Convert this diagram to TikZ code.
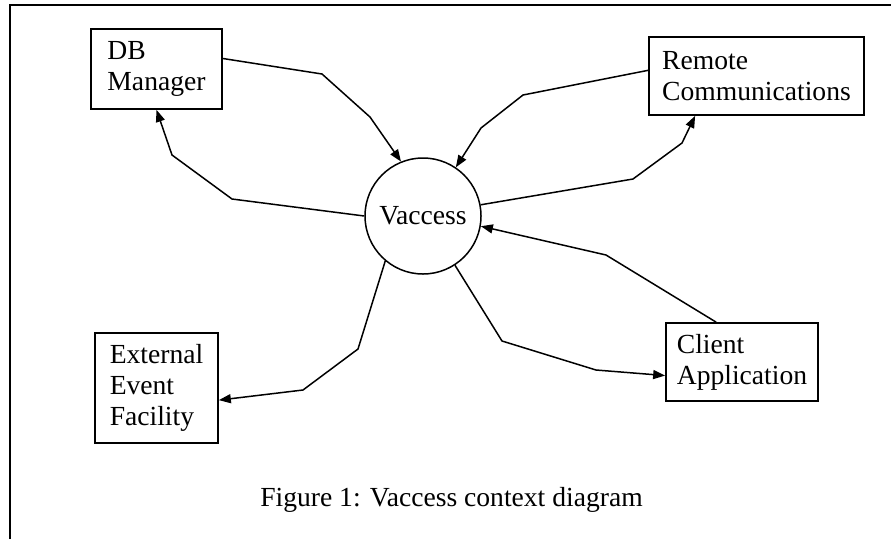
\documentclass[tikz,border=0pt]{standalone}
\usepackage{fontspec}
\setmainfont{Liberation Serif}
\usetikzlibrary{arrows.meta,positioning,calc}

\begin{document}
\begin{tikzpicture}[x=1pt,y=-1pt,
	every node/.style={font=\fontsize{27.6}{31}\selectfont},
	box/.style={draw,line width=1.7pt,align=left,inner sep=0pt},
	flow/.style={line width=1.5pt,-{Triangle[length=12pt,width=9pt]}}]
	\useasboundingbox (0,0) rectangle (891,539);
	
	% frame
	\draw[line width=2.2pt] (10,539)--(10,5)--(891,5);
	
	\node[draw,circle,line width=1.5pt,minimum size=116pt,inner sep=0pt] (vac) at (423,216) {Vaccess};
	
	\node[box,minimum width=131pt,minimum height=80pt] (db) at (156.5,69) {DB\\Manager};
	\node[box,minimum width=215pt,minimum height=78pt] (rc) at (756.5,76) {Remote\\Communications};
	\node[box,minimum width=123pt,minimum height=110pt] (eef) at (156.5,388) {External\\Event\\Facility};
	\node[box,minimum width=152pt,minimum height=78pt] (ca) at (742,362) {Client\\Application};
	
	\draw[flow] (db.9)--(322,74)--(370,117)--(vac.112);
	\draw[flow] (vac.west)--(232,199)--(172,155)--(db.south);
	\draw[flow] (rc.177)--(523,95)--(481,128)--(vac.56);
	\draw[flow] (vac.11)--(633,179)--(682,143)--(rc.-147);
	\draw[flow] (ca.123)--(606,255)--(vac.-10);
	\draw[flow] (vac.-57)--(502,341)--(596,370)--(ca.190);
	\draw[flow] (vac.-130)--(358,349)--(303,390)--(eef.-11);
	
	\node[anchor=base] (cap) at (451.5,506) {Figure 1: Vaccess context diagram};
\end{tikzpicture}
\end{document}
